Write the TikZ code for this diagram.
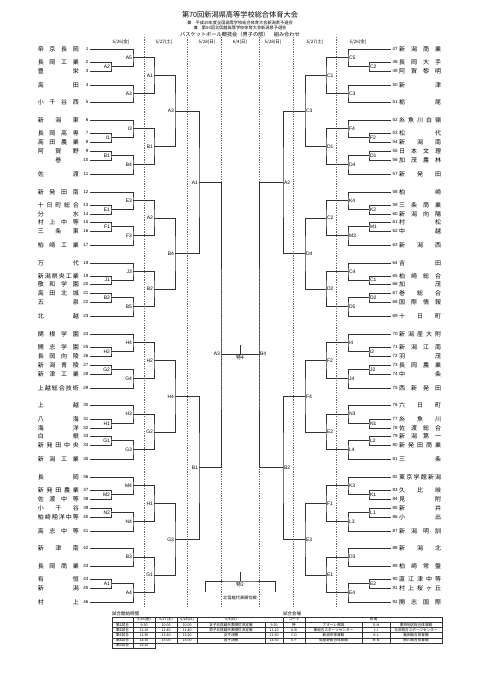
\documentclass[tikz,border=0pt]{standalone}
\usepackage{fontspec}
\setmainfont{Noto Sans CJK JP}
\newfontfamily\lab{Liberation Sans}
\usetikzlibrary{calc}

% team on the left / right: number, y, name
\newcommand{\lteam}[3]{%
  \coordinate (t#1) at (90,#2);
  \node[tnum, anchor=east] (n#1) at (88.5,#2) {#1};
  \node[tname, anchor=east] (s#1) at (79,#2) {\makebox[41pt][s]{#3}};}
\newcommand{\rteam}[3]{%
  \coordinate (t#1) at (391,#2);
  \node[tnum, anchor=west] (n#1) at (392.5,#2) {#1};
  \node[tname, anchor=west] (s#1) at (399,#2) {\makebox[42pt][s]{#3}};}
% one match: name, upper, lower, column, label anchor, label
\newcommand{\bkt}[6]{%
  \coordinate (mid) at ($(#2)!.5!(#3)$);
  \coordinate (#1) at (mid -| #4);
  \draw[bline] (#2) -| (#1) |- (#3);
  \node[mlabel, anchor=#5] (lb#1) at (#1) {#6};}

\begin{document}
\begin{tikzpicture}[x=1pt, y=-1pt,
    bline/.style={draw=black!80, line width=0.7pt},
    dayline/.style={draw=black!60, line width=0.5pt, dash pattern=on 1.2pt off 1.2pt},
    tline/.style={draw=black!80, line width=0.4pt},
    mlabel/.style={font=\lab\fontsize{5}{5}\selectfont, inner sep=0.8pt},
    jlabel/.style={font=\fontsize{5}{5}\selectfont, inner sep=0.8pt},
    tname/.style={font=\fontsize{6}{6}\selectfont, inner sep=0pt},
    tnum/.style={font=\lab\fontsize{4.5}{5}\selectfont, inner sep=0pt},
    hdr/.style={font=\fontsize{4.5}{5}\selectfont, inner sep=0pt},
    tcell/.style={font=\fontsize{3.6}{4}\selectfont, inner sep=0pt}]
\fill[white] (0,0) rectangle (481,680);
\useasboundingbox (0,0) rectangle (481,680);

% title
\node[font=\fontsize{7.2}{8}\selectfont] (title) at (240,15) {第70回新潟県高等学校総合体育大会};
\node[font=\fontsize{4.2}{5}\selectfont] (sub1) at (240,22.5) {兼　平成29年度全国高等学校総合体育大会新潟県予選会};
\node[font=\fontsize{4.2}{5}\selectfont] (sub2) at (240,28.2) {兼　第50回北信越高等学校体育大会新潟県予選会};
\node[font=\fontsize{5.2}{6}\selectfont] (sub3) at (240,34.5) {バスケットボール競技会（男子の部）　組み合わせ};

% days
\foreach \xx in {144,187,221,259,293,336}
  \draw[dayline] (\xx,37) -- (\xx,606);
\node[hdr] (d1) at (121,42) {5/26(金)};
\node[hdr] (d2) at (164,42) {5/27(土)};
\node[hdr] (d3) at (207,42) {5/28(日)};
\node[hdr] (d4) at (240,42) {6/4(日)};
\node[hdr] (d5) at (273,42) {5/28(日)};
\node[hdr] (d6) at (315,42) {5/27(土)};
\node[hdr] (d7) at (358,42) {5/26(金)};

\coordinate (cl0) at (111,0); \coordinate (cl1) at (133,0);
\coordinate (cl2) at (154,0); \coordinate (cl3) at (175,0);
\coordinate (cl4) at (199,0);
\coordinate (cr0) at (369,0); \coordinate (cr1) at (348,0);
\coordinate (cr2) at (326,0); \coordinate (cr3) at (305,0);
\coordinate (cr4) at (283,0);

% left teams
\lteam{1}{49}{帝 京 長 岡}
\lteam{2}{62}{長 岡 工 業}
\lteam{3}{71}{豊 栄}
\lteam{4}{85}{高 田}
\lteam{5}{102}{小 千 谷 西}
\lteam{6}{120}{新 潟 東}
\lteam{7}{133}{長 岡 高 専}
\lteam{8}{142}{高 田 農 業}
\lteam{9}{151}{阿 賀 野}
\lteam{10}{160}{\hfil 巻\hfil}
\lteam{11}{174}{佐 渡}
\lteam{12}{192}{新 発 田 南}
\lteam{13}{205}{十 日 町 総 合}
\lteam{14}{214}{分 水}
\lteam{15}{222}{村 上 中 等}
\lteam{16}{231}{三 条 東}
\lteam{17}{245}{柏 崎 工 業}
\lteam{18}{263}{万 代}
\lteam{19}{276}{新 潟 県 央 工 業}
\lteam{20}{284}{敬 和 学 園}
\lteam{21}{293}{高 田 北 城}
\lteam{22}{302}{五 泉}
\lteam{23}{316}{北 越}
\lteam{24}{334}{関 根 学 園}
\lteam{25}{347}{開 志 学 園}
\lteam{26}{356}{長 岡 向 陵}
\lteam{27}{365}{新 潟 青 陵}
\lteam{28}{374}{新 津 工 業}
\lteam{29}{388}{上 越 総 合 技 術}
\lteam{30}{405}{上 越}
\lteam{31}{419}{八 海}
\lteam{32}{428}{海 洋}
\lteam{33}{436}{白 根}
\lteam{34}{445}{新 発 田 中 央}
\lteam{35}{459}{新 潟 工 業}
\lteam{36}{477}{長 岡}
\lteam{37}{490}{新 発 田 農 業}
\lteam{38}{499}{佐 渡 中 等}
\lteam{39}{508}{小 千 谷}
\lteam{40}{517}{柏 崎 翔 洋 中 等}
\lteam{41}{531}{高 志 中 等}
\lteam{42}{548}{新 津 南}
\lteam{43}{566}{長 岡 商 業}
\lteam{44}{579}{有 恒}
\lteam{45}{588}{新 潟}
\lteam{46}{602}{村 上}

% right teams
\rteam{47}{49}{新 潟 商 業}
\rteam{48}{62}{長 岡 大 手}
\rteam{49}{71}{阿 賀 黎 明}
\rteam{50}{85}{新 津}
\rteam{51}{102}{栃 尾}
\rteam{52}{120}{糸 魚 川 白 嶺}
\rteam{53}{133}{松 代}
\rteam{54}{142}{新 潟 南}
\rteam{55}{151}{日 本 文 理}
\rteam{56}{160}{加 茂 農 林}
\rteam{57}{174}{新 発 田}
\rteam{58}{192}{柏 崎}
\rteam{59}{205}{三 条 商 業}
\rteam{60}{214}{新 潟 向 陽}
\rteam{61}{222}{村 松}
\rteam{62}{231}{中 越}
\rteam{63}{245}{新 潟 西}
\rteam{64}{263}{吉 田}
\rteam{65}{276}{柏 崎 総 合}
\rteam{66}{284}{加 茂}
\rteam{67}{293}{巻 総 合}
\rteam{68}{302}{国 際 情 報}
\rteam{69}{316}{十 日 町}
\rteam{70}{334}{新 潟 産 大 附}
\rteam{71}{347}{新 潟 江 南}
\rteam{72}{356}{羽 茂}
\rteam{73}{365}{長 岡 農 業}
\rteam{74}{374}{中 条}
\rteam{75}{388}{西 新 発 田}
\rteam{76}{405}{六 日 町}
\rteam{77}{419}{糸 魚 川}
\rteam{78}{428}{佐 渡 総 合}
\rteam{79}{436}{新 潟 第 一}
\rteam{80}{445}{新 発 田 商 業}
\rteam{81}{459}{三 条}
\rteam{82}{477}{東 京 学 館 新 潟}
\rteam{83}{490}{久 比 岐}
\rteam{84}{499}{見 附}
\rteam{85}{508}{新 井}
\rteam{86}{517}{小 出}
\rteam{87}{531}{新 潟 明 訓}
\rteam{88}{548}{新 潟 北}
\rteam{89}{566}{柏 崎 常 盤}
\rteam{90}{579}{直 江 津 中 等}
\rteam{91}{588}{村 上 桜 ヶ 丘}
\rteam{92}{602}{開 志 国 際}

% left bracket
\bkt{l0A2}{t2}{t3}{cl0}{east}{A2}
\bkt{l1A5}{t1}{l0A2}{cl1}{east}{A5}
\bkt{l1A3}{t4}{t5}{cl1}{east}{A3}
\bkt{l2A1}{l1A5}{l1A3}{cl2}{east}{A1}
\bkt{l0I1}{t7}{t8}{cl0}{east}{I1}
\bkt{l1I3}{t6}{l0I1}{cl1}{east}{I3}
\bkt{l0B1}{t9}{t10}{cl0}{east}{B1}
\bkt{l1B4}{l0B1}{t11}{cl1}{east}{B4}
\bkt{l2B1}{l1I3}{l1B4}{cl2}{east}{B1}
\bkt{l3A3}{l2A1}{l2B1}{cl3}{east}{A3}
\bkt{l0E1}{t13}{t14}{cl0}{east}{E1}
\bkt{l1E3}{t12}{l0E1}{cl1}{east}{E3}
\bkt{l0F1}{t15}{t16}{cl0}{east}{F1}
\bkt{l1F3}{l0F1}{t17}{cl1}{east}{F3}
\bkt{l2A2}{l1E3}{l1F3}{cl2}{east}{A2}
\bkt{l0J1}{t19}{t20}{cl0}{east}{J1}
\bkt{l1J3}{t18}{l0J1}{cl1}{east}{J3}
\bkt{l0B2}{t21}{t22}{cl0}{east}{B2}
\bkt{l1B5}{l0B2}{t23}{cl1}{east}{B5}
\bkt{l2B2}{l1J3}{l1B5}{cl2}{east}{B2}
\bkt{l3B4}{l2A2}{l2B2}{cl3}{east}{B4}
\bkt{l4A1}{l3A3}{l3B4}{cl4}{east}{A1}
\bkt{l0H2}{t25}{t26}{cl0}{east}{H2}
\bkt{l1H4}{t24}{l0H2}{cl1}{east}{H4}
\bkt{l0G2}{t27}{t28}{cl0}{east}{G2}
\bkt{l1G4}{l0G2}{t29}{cl1}{east}{G4}
\bkt{l2H2}{l1H4}{l1G4}{cl2}{east}{H2}
\bkt{l0H1}{t31}{t32}{cl0}{east}{H1}
\bkt{l1H3}{t30}{l0H1}{cl1}{east}{H3}
\bkt{l0G1}{t33}{t34}{cl0}{east}{G1}
\bkt{l1G3}{l0G1}{t35}{cl1}{east}{G3}
\bkt{l2G2}{l1H3}{l1G3}{cl2}{east}{G2}
\bkt{l3H4}{l2H2}{l2G2}{cl3}{east}{H4}
\bkt{l0M2}{t37}{t38}{cl0}{east}{M2}
\bkt{l1M4}{t36}{l0M2}{cl1}{east}{M4}
\bkt{l0N2}{t39}{t40}{cl0}{east}{N2}
\bkt{l1N4}{l0N2}{t41}{cl1}{east}{N4}
\bkt{l2H1}{l1M4}{l1N4}{cl2}{east}{H1}
\bkt{l1B3}{t42}{t43}{cl1}{east}{B3}
\bkt{l0A1}{t44}{t45}{cl0}{east}{A1}
\bkt{l1A4}{l0A1}{t46}{cl1}{east}{A4}
\bkt{l2G1}{l1B3}{l1A4}{cl2}{east}{G1}
\bkt{l3G3}{l2H1}{l2G1}{cl3}{east}{G3}
\bkt{l4B1}{l3H4}{l3G3}{cl4}{east}{B1}

% right bracket
\bkt{r0C2}{t48}{t49}{cr0}{west}{C2}
\bkt{r1C5}{t47}{r0C2}{cr1}{west}{C5}
\bkt{r1C3}{t50}{t51}{cr1}{west}{C3}
\bkt{r2C1}{r1C5}{r1C3}{cr2}{west}{C1}
\bkt{r0F2}{t53}{t54}{cr0}{west}{F2}
\bkt{r1F4}{t52}{r0F2}{cr1}{west}{F4}
\bkt{r0D1}{t55}{t56}{cr0}{west}{D1}
\bkt{r1D4}{r0D1}{t57}{cr1}{west}{D4}
\bkt{r2D1}{r1F4}{r1D4}{cr2}{west}{D1}
\bkt{r3C3}{r2C1}{r2D1}{cr3}{west}{C3}
\bkt{r0K2}{t59}{t60}{cr0}{west}{K2}
\bkt{r1K4}{t58}{r0K2}{cr1}{west}{K4}
\bkt{r0M1}{t61}{t62}{cr0}{west}{M1}
\bkt{r1M3}{r0M1}{t63}{cr1}{west}{M3}
\bkt{r2C2}{r1K4}{r1M3}{cr2}{west}{C2}
\bkt{r0C1}{t65}{t66}{cr0}{west}{C1}
\bkt{r1C4}{t64}{r0C1}{cr1}{west}{C4}
\bkt{r0D2}{t67}{t68}{cr0}{west}{D2}
\bkt{r1D5}{r0D2}{t69}{cr1}{west}{D5}
\bkt{r2D2}{r1C4}{r1D5}{cr2}{west}{D2}
\bkt{r3D4}{r2C2}{r2D2}{cr3}{west}{D4}
\bkt{r4A2}{r3C3}{r3D4}{cr4}{west}{A2}
\bkt{r0I2}{t71}{t72}{cr0}{west}{I2}
\bkt{r1I4}{t70}{r0I2}{cr1}{west}{I4}
\bkt{r0J2}{t73}{t74}{cr0}{west}{J2}
\bkt{r1J4}{r0J2}{t75}{cr1}{west}{J4}
\bkt{r2F2}{r1I4}{r1J4}{cr2}{west}{F2}
\bkt{r0N1}{t77}{t78}{cr0}{west}{N1}
\bkt{r1N3}{t76}{r0N1}{cr1}{west}{N3}
\bkt{r0L2}{t79}{t80}{cr0}{west}{L2}
\bkt{r1L4}{r0L2}{t81}{cr1}{west}{L4}
\bkt{r2E2}{r1N3}{r1L4}{cr2}{west}{E2}
\bkt{r3F4}{r2F2}{r2E2}{cr3}{west}{F4}
\bkt{r0K1}{t83}{t84}{cr0}{west}{K1}
\bkt{r1K3}{t82}{r0K1}{cr1}{west}{K3}
\bkt{r0L1}{t85}{t86}{cr0}{west}{L1}
\bkt{r1L3}{r0L1}{t87}{cr1}{west}{L3}
\bkt{r2F1}{r1K3}{r1L3}{cr2}{west}{F1}
\bkt{r1D3}{t88}{t89}{cr1}{west}{D3}
\bkt{r0E2}{t90}{t91}{cr0}{west}{E2}
\bkt{r1E4}{r0E2}{t92}{cr1}{west}{E4}
\bkt{r2E1}{r1D3}{r1E4}{cr2}{west}{E1}
\bkt{r3E3}{r2F1}{r2E1}{cr3}{west}{E3}
\bkt{r4B2}{r3F4}{r3E3}{cr4}{west}{B2}

% semifinals and final
\coordinate (l5A3) at (221,354);
\coordinate (r5B4) at (259,354);
\draw[bline] (l4A1) -| (l5A3) |- (l4B1);
\draw[bline] (r4A2) -| (r5B4) |- (r4B2);
\node[mlabel, anchor=east] (lbl5A3) at (l5A3) {A3};
\node[mlabel, anchor=west] (lbr5B4) at (r5B4) {B4};
\coordinate (fin) at ($(l5A3)!.5!(r5B4)$);
\draw[bline] (l5A3) -- (r5B4);
\draw[bline] (fin) -- ++(0,-9);
\node[jlabel, anchor=north] (lbfin) at ([yshift=-0.5pt]fin) {特4};

% ranking match
\coordinate (rk) at (240,581);
\coordinate (rkl) at (205,592);
\coordinate (rkr) at (275,592);
\draw[bline] (rkl) |- (rk) -| (rkr);
\draw[bline] (rk) -- ++(0,-9);
\node[jlabel, anchor=north] (lbrk) at ([yshift=-0.5pt]rk) {特2};
\node[tcell, font=\fontsize{4.2}{5}\selectfont] (rkt) at (240,598) {北信越代表順位戦};

% time table
\node[hdr, anchor=west] (tsh) at (112,613.5) {試合開始時間};
\node[hdr, anchor=west] (tvh) at (283,613.5) {試合会場};
\draw[tline] (112,617) rectangle (442,643);
\foreach \yy in {622.2,627.4,632.6,637.8}
  \draw[tline] (112,\yy) -- (442,\yy);
\foreach \xx in {133,155,177,197,283,305}
  \draw[tline] (\xx,617) -- (\xx,643);
\foreach \xx in {265,362,390}
  \draw[tline] (\xx,622.2) -- (\xx,643);
\draw[tline] (112,643) rectangle (155,648.2);
\draw[tline] (133,643) -- (133,648.2);
\node[tcell] (h1) at (144,619.6) {5/26(金)};
\node[tcell] (h2) at (166,619.6) {5/27(土)};
\node[tcell] (h3) at (187,619.6) {5/28(日)};
\node[tcell] (h4) at (231,619.6) {6/4(日)};
\node[tcell] (h5) at (294,619.6) {コート};
\node[tcell] (h6) at (373.5,619.6) {会場};
\foreach \rw/\qa/\qb/\qc/\qm/\qt/\qk/\qv/\qj/\qw in {
    1/9:30/10:00/10:00/女子北信越代表順位決定戦/9:30/特/アオーレ長岡/G-H/黒埼地区総合体育館,
    2/11:10/11:40/11:40/男子北信越代表順位決定戦/11:10/A-B/東総合スポーツセンター/I-J/北区総合スポーツセンター,
    3/12:50/13:20/13:20/女子決勝/12:50/C-D/新潟市体育館/K-L/亀田総合体育館,
    4/14:30/15:00/15:00/男子決勝/14:30/E-F/鳥屋野総合体育館/M-N/西川総合体育館}{
  \node[tcell] (ra\rw) at (122.5,{619.6+5.2*\rw}) {第\rw 試合};
  \node[tcell] (rb\rw) at (144,{619.6+5.2*\rw}) {\qa};
  \node[tcell] (rc\rw) at (166,{619.6+5.2*\rw}) {\qb};
  \node[tcell] (rd\rw) at (187,{619.6+5.2*\rw}) {\qc};
  \node[tcell] (re\rw) at (231,{619.6+5.2*\rw}) {\qm};
  \node[tcell] (rf\rw) at (274,{619.6+5.2*\rw}) {\qt};
  \node[tcell] (rg\rw) at (294,{619.6+5.2*\rw}) {\qk};
  \node[tcell] (rh\rw) at (333.5,{619.6+5.2*\rw}) {\qv};
  \node[tcell] (ri\rw) at (376,{619.6+5.2*\rw}) {\qj};
  \node[tcell] (rj\rw) at (416,{619.6+5.2*\rw}) {\qw};
}
\node[tcell] (ra5) at (122.5,645.6) {第5試合};
\node[tcell] (rb5) at (144,645.6) {16:10};
\end{tikzpicture}
\end{document}
